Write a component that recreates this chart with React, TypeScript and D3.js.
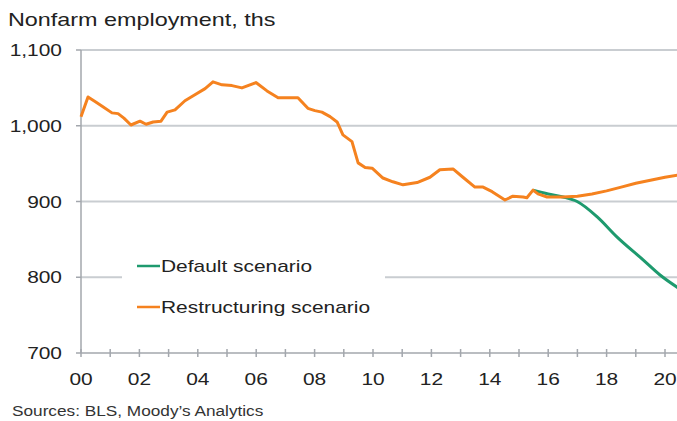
import React, { useEffect, useRef } from "react";
import * as d3 from "d3";

// orange line: history + restructuring forecast (year, ths)
const restructYears = [
  2000.0, 2000.24, 2000.48, 2000.75, 2001.06, 2001.27, 2001.47, 2001.71, 2002.02, 2002.23,
  2002.47, 2002.74, 2002.95, 2003.22, 2003.56, 2003.9, 2004.25, 2004.52, 2004.83, 2005.17,
  2005.51, 2005.99, 2006.37, 2006.75, 2007.09, 2007.43, 2007.77, 2008.01, 2008.25, 2008.53,
  2008.77, 2008.97, 2009.28, 2009.49, 2009.73, 2009.97, 2010.34, 2010.68, 2011.03, 2011.51,
  2011.95, 2012.29, 2012.74, 2013.08, 2013.49, 2013.77, 2014.08, 2014.52, 2014.79, 2015.14,
  2015.27, 2015.48, 2015.65, 2015.96, 2016.5, 2017.0, 2017.5, 2018.0, 2018.5, 2019.0,
  2019.5, 2020.0, 2020.45,
];
const restructValues = [
  1012, 1038, 1032, 1025, 1017, 1016, 1010, 1001, 1006, 1002,
  1005, 1006, 1018, 1021, 1033, 1041, 1049, 1058, 1054, 1053,
  1050, 1057, 1046, 1037, 1037, 1037, 1023, 1020, 1018, 1012,
  1005, 988, 979, 951, 945, 944, 931, 926, 922, 925,
  932, 942, 943, 932, 919, 919, 913, 902, 907, 906,
  905, 915, 910, 906, 906, 907, 910, 914, 919, 924,
  928, 932, 935,
];

// green line: default scenario
const defaultYears = [2015.48, 2016.0, 2016.51, 2016.99, 2017.67, 2018.36, 2019.25, 2019.83, 2020.45];
const defaultValues = [915, 910, 906, 900, 880, 853, 823, 803, 786];

const yTicks = [700, 800, 900, 1000, 1100];
const xTickYears = d3.range(2000, 2021);
const xLabelYears = [2000, 2002, 2004, 2006, 2008, 2010, 2012, 2014, 2016, 2018, 2020];

const W = 677;
const H = 421;
const font = "'Liberation Sans', Arial, sans-serif";
const stretch = 1.23; // the original text is drawn a bit wide

export default function App() {
  const svgRef = useRef<SVGSVGElement>(null);

  useEffect(() => {
    const svg = d3.select(svgRef.current);
    svg.selectAll("*").remove();

    const x = d3.scaleLinear().domain([2000, 2020]).range([81, 665]);
    const y = d3.scaleLinear().domain([700, 1100]).range([353, 50]);

    // gridlines
    svg
      .selectAll(".grid")
      .data(yTicks.filter((t) => t > 700))
      .enter()
      .append("line")
      .attr("x1", x(2000))
      .attr("x2", W)
      .attr("y1", (d) => y(d))
      .attr("y2", (d) => y(d))
      .attr("stroke", "#c9cdd1")
      .attr("stroke-width", 2);

    // y axis
    svg
      .append("line")
      .attr("x1", x(2000))
      .attr("x2", x(2000))
      .attr("y1", y(1100))
      .attr("y2", y(700))
      .attr("stroke", "#a3a7ad")
      .attr("stroke-width", 1.5);
    svg
      .selectAll(".ytick")
      .data(yTicks)
      .enter()
      .append("line")
      .attr("x1", x(2000) - 5)
      .attr("x2", x(2000))
      .attr("y1", (d) => y(d))
      .attr("y2", (d) => y(d))
      .attr("stroke", "#a3a7ad")
      .attr("stroke-width", 1.5);
    svg
      .selectAll(".ylab")
      .data(yTicks)
      .enter()
      .append("text")
      .attr("transform", (d) => `translate(62,${y(d)}) scale(${stretch},1)`)
      .attr("dy", "0.36em")
      .attr("text-anchor", "end")
      .style("font-family", font)
      .style("font-size", "17px")
      .attr("fill", "#222")
      .text((d) => d3.format(",")(d));

    // x axis
    svg
      .append("line")
      .attr("x1", x(2000))
      .attr("x2", W)
      .attr("y1", y(700))
      .attr("y2", y(700))
      .attr("stroke", "#a3a7ad")
      .attr("stroke-width", 1.5);
    svg
      .selectAll(".xtick")
      .data(xTickYears)
      .enter()
      .append("line")
      .attr("x1", (d) => x(d))
      .attr("x2", (d) => x(d))
      .attr("y1", y(700) - 4)
      .attr("y2", y(700) + 4)
      .attr("stroke", "#a3a7ad")
      .attr("stroke-width", 1.5);
    svg
      .selectAll(".xlab")
      .data(xLabelYears)
      .enter()
      .append("text")
      .attr("transform", (d) => `translate(${x(d)},385) scale(${stretch},1)`)
      .attr("text-anchor", "middle")
      .style("font-family", font)
      .style("font-size", "17px")
      .attr("fill", "#222")
      .text((d) => String(d % 100).padStart(2, "0"));

    // legend box hides the 800 gridline
    svg.append("rect").attr("x", 122).attr("y", 250).attr("width", 263).attr("height", 70).attr("fill", "#fff");

    const legendItems = [
      { label: "Default scenario", color: "#1e9a6e", y: 266 },
      { label: "Restructuring scenario", color: "#f5821f", y: 307 },
    ];
    const lg = svg.selectAll(".legend").data(legendItems).enter().append("g");
    lg.append("line")
      .attr("x1", 137)
      .attr("x2", 160)
      .attr("y1", (d) => d.y)
      .attr("y2", (d) => d.y)
      .attr("stroke", (d) => d.color)
      .attr("stroke-width", 2.5);
    lg.append("text")
      .attr("transform", (d) => `translate(161,${d.y}) scale(${stretch},1)`)
      .attr("dy", "0.36em")
      .style("font-family", font)
      .style("font-size", "17px")
      .attr("fill", "#222")
      .text((d) => d.label);

    // lines
    const line = d3
      .line<[number, number]>()
      .x((d) => x(d[0]))
      .y((d) => y(d[1]));

    svg
      .append("path")
      .datum(defaultYears.map((yr, i) => [yr, defaultValues[i]] as [number, number]))
      .attr("fill", "none")
      .attr("stroke", "#1e9a6e")
      .attr("stroke-width", 3)
      .attr("d", line.curve(d3.curveMonotoneX));

    svg
      .append("path")
      .datum(restructYears.map((yr, i) => [yr, restructValues[i]] as [number, number]))
      .attr("fill", "none")
      .attr("stroke", "#f5821f")
      .attr("stroke-width", 3)
      .attr("stroke-linejoin", "round")
      .attr("d", line.curve(d3.curveLinear));

    // title + source
    svg
      .append("text")
      .attr("transform", `translate(8,26) scale(${stretch},1)`)
      .style("font-family", font)
      .style("font-size", "19px")
      .attr("fill", "#222")
      .text("Nonfarm employment, ths");
    svg
      .append("text")
      .attr("transform", `translate(12,416) scale(${stretch},1)`)
      .style("font-family", font)
      .style("font-size", "14px")
      .attr("fill", "#333")
      .text("Sources: BLS, Moody\u2019s Analytics");
  }, []);

  return (
    <div style={{ position: "absolute", left: 0, top: 0, width: W, height: H, background: "#fff" }}>
      <svg ref={svgRef} width={W} height={H}></svg>
    </div>
  );
}
